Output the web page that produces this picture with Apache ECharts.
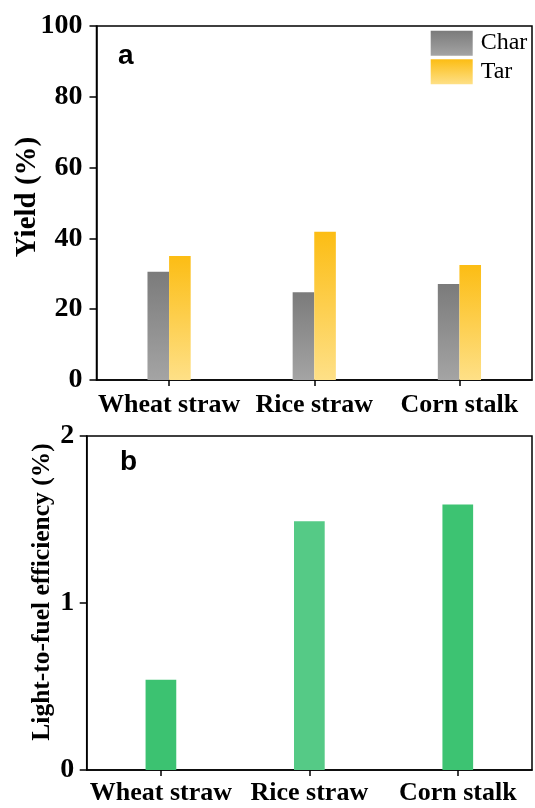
<!DOCTYPE html>
<html>
<head>
<meta charset="utf-8">
<script src="https://cdn.jsdelivr.net/npm/echarts@6/dist/echarts.min.js"></script>
<style>
  html, body { margin: 0; padding: 0; background: #fff; }
  #chart { width: 535px; height: 808px; }
</style>
</head>
<body>
<div id="chart"></div>
<script>
// Biomass feedstocks
const categories = ['Wheat straw', 'Rice straw', 'Corn stalk'];
// Panel a: product yields (%)
const charYield = [30.6, 24.8, 27.1];
const tarYield = [35.0, 41.9, 32.5];
// Panel b: light-to-fuel efficiency (%)
const efficiency = [0.54, 1.49, 1.59];
const effColors = ['#3cc271', '#55ca86', '#3dc372'];
// Axis ticks
const yieldTicks = { min: 0, max: 100, interval: 20 };
const effTicks = { min: 0, max: 2, interval: 1 };

const serif = 'Liberation Serif, Times New Roman, serif';
const sans = 'Liberation Sans, Arial, sans-serif';

function vGrad(top, bottom) {
  return new echarts.graphic.LinearGradient(0, 0, 0, 1, [
    { offset: 0, color: top },
    { offset: 1, color: bottom }
  ]);
}

const chart = echarts.init(document.getElementById('chart'), null, { renderer: 'canvas' });

const xAxisBase = (gridIndex, margin) => ({
  type: 'category',
  gridIndex,
  data: categories,
  axisLine: { lineStyle: { color: '#000', width: 1.5 } },
  axisTick: { show: true, alignWithLabel: true, length: 6, lineStyle: { color: '#000', width: 1.5 } },
  axisLabel: { interval: 0, color: '#000', fontFamily: serif, fontWeight: 'bold', fontSize: 26, margin },
  splitLine: { show: false }
});

const yAxisBase = (gridIndex, ticks, margin) => ({
  type: 'value',
  gridIndex,
  min: ticks.min,
  max: ticks.max,
  interval: ticks.interval,
  axisLine: { show: true, lineStyle: { color: '#000', width: 1.5 } },
  axisTick: { show: true, length: 7, lineStyle: { color: '#000', width: 1.5 } },
  axisLabel: { color: '#000', fontFamily: serif, fontWeight: 'bold', fontSize: 28, margin },
  splitLine: { show: false }
});

chart.setOption({
  backgroundColor: '#fff',
  animation: false,
  grid: [
    { left: 96.5, top: 26, right: 3, height: 354, show: true, borderColor: '#000', borderWidth: 1.5 },
    { left: 86.7, top: 436, right: 3, height: 334, show: true, borderColor: '#000', borderWidth: 1.5 }
  ],
  legend: {
    data: ['Char', 'Tar'],
    orient: 'vertical',
    left: 430.7,
    top: 30.7,
    padding: 0,
    icon: 'rect',
    itemWidth: 42,
    itemHeight: 25,
    itemGap: 3.6,
    selectedMode: false,
    textStyle: { color: '#000', fontFamily: serif, fontSize: 24, lineHeight: 25, padding: [0, 0, 0, 3] }
  },
  xAxis: [xAxisBase(0, 12), xAxisBase(1, 10)],
  yAxis: [yAxisBase(0, yieldTicks, 14), yAxisBase(1, effTicks, 12.5)],
  series: [
    {
      name: 'Char',
      type: 'bar',
      xAxisIndex: 0,
      yAxisIndex: 0,
      data: charYield,
      barWidth: 21.6,
      barGap: '0%',
      itemStyle: { color: vGrad('#7b7b7b', '#a4a4a4') }
    },
    {
      name: 'Tar',
      type: 'bar',
      xAxisIndex: 0,
      yAxisIndex: 0,
      data: tarYield,
      barWidth: 21.6,
      barGap: '0%',
      itemStyle: { color: vGrad('#fcbd14', '#fee087') }
    },
    {
      name: 'Efficiency',
      type: 'bar',
      xAxisIndex: 1,
      yAxisIndex: 1,
      barWidth: 30.7,
      data: efficiency.map((v, i) => ({ value: v, itemStyle: { color: effColors[i] } }))
    }
  ],
  graphic: [
    {
      type: 'text', left: 118, top: 42,
      style: { text: 'a', fill: '#000', font: 'bold 28px ' + sans }
    },
    {
      type: 'text', left: 120, top: 448,
      style: { text: 'b', fill: '#000', font: 'bold 28px ' + sans }
    },
    {
      type: 'text', x: 28, y: 197, rotation: Math.PI / 2,
      style: {
        text: 'Yield (%)', fill: '#000', font: 'bold 29px ' + serif,
        textAlign: 'center', textVerticalAlign: 'middle'
      }
    },
    {
      type: 'text', x: 42, y: 592, rotation: Math.PI / 2,
      style: {
        text: 'Light-to-fuel efficiency (%)', fill: '#000', font: 'bold 25.5px ' + serif,
        textAlign: 'center', textVerticalAlign: 'middle'
      }
    }
  ]
});
</script>
</body>
</html>
